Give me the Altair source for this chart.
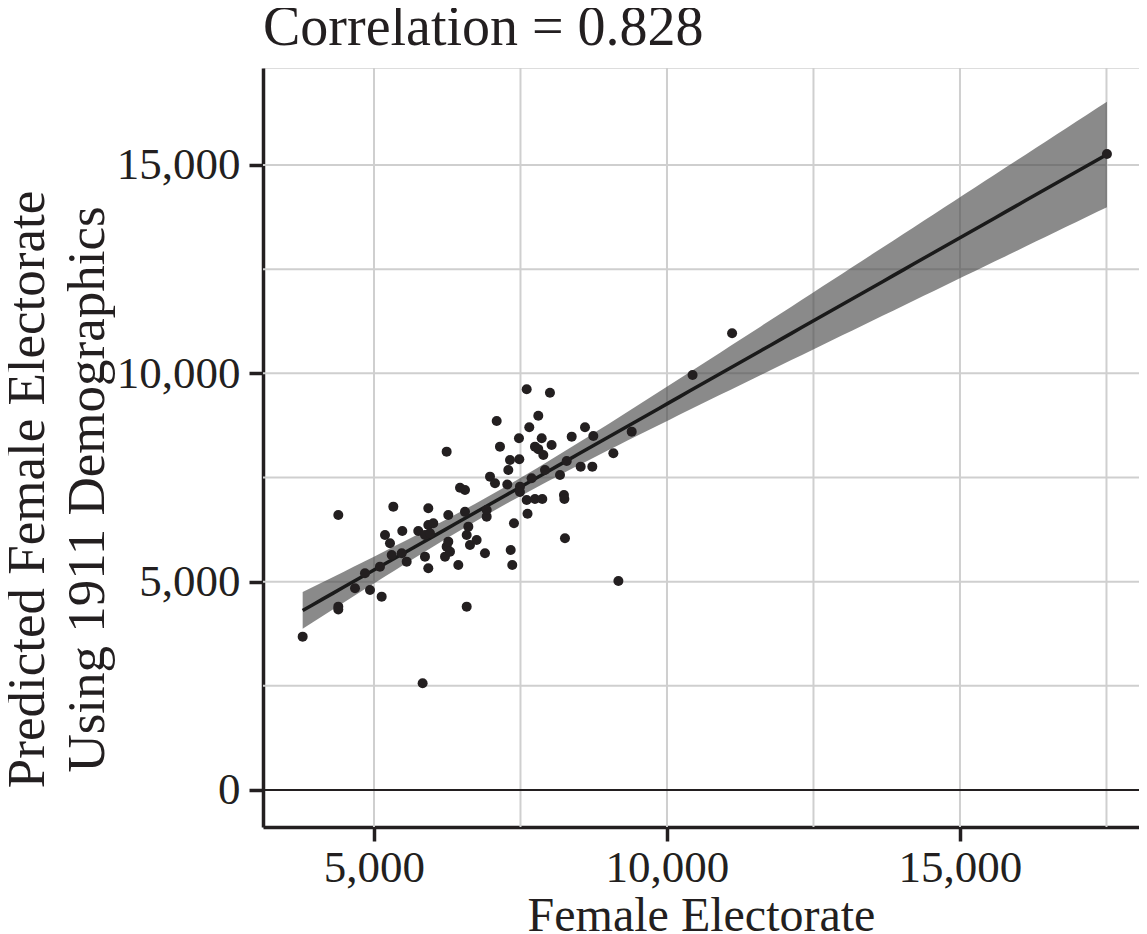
import altair as alt
import numpy as np
import pandas as pd

# ---- data ----
female_electorate = [
    3783, 4391, 4391, 4391, 4676, 4846, 4932, 5102, 5131, 5188,
    5273, 5302, 5330, 5473, 5483, 5558, 5756, 5830, 5870, 5870,
    5927, 5927, 5927, 5956, 6012, 6212, 6240, 6240, 6268, 6268,
    6297, 6439, 6468, 6553, 6553, 6582, 6582, 6610, 6638, 6752,
    6894, 6923, 6923, 6980, 7065, 7094, 7150, 7275, 7292, 7321,
    7333, 7360, 7389, 7474, 7480, 7491, 7491, 7606, 7606, 7620,
    7650, 7690, 7747, 7747, 7804, 7804, 7862, 7872, 7890, 7918,
    8003, 8031, 8174, 8242, 8249, 8259, 8289, 8374, 8527, 8601,
    8726, 8743, 9085, 9171, 9398, 10437, 11111, 17508,
]
predicted_electorate = [
    3680, 4400, 4330, 6600, 4840, 5200, 4800, 5360, 4640, 6120,
    5920, 5640, 6800, 5680, 6216, 5480, 6216, 2560, 5600, 6120,
    5320, 6360, 6760, 6160, 6400, 5600, 5840, 8120, 5960, 6600,
    5720, 5400, 7254, 7200, 6675, 6120, 4400, 6320, 5880, 6000,
    5680, 6560, 6720, 7520, 7360, 8855, 8240, 7332, 7680, 7920,
    5760, 5400, 6400, 8440, 7936, 7280, 7150, 9616, 6960, 6630,
    8704, 7480, 8240, 6984, 8983, 8180, 8440, 6984, 8040, 7680,
    9535, 8280, 7560, 7080, 6984, 6040, 7896, 8480, 7760, 8704,
    7760, 8495, 8080, 5016, 8600, 9960, 10960, 15263,
]
x_ticks = [5000, 10000, 15000]
y_ticks = [0, 5000, 10000, 15000]
x_grid = [5000, 7500, 10000, 12500, 15000, 17500]
y_grid = [2500, 5000, 7500, 10000, 12500, 15000]
y_zero = [0]
title_text = "Correlation = 0.828"
x_title = "Female Electorate"
y_title = ["Predicted Female Electorate", "Using 1911 Demographics"]

# ---- linear fit with 95% confidence band (like geom_smooth(method="lm")) ----
x = np.array(female_electorate, dtype=float)
y = np.array(predicted_electorate, dtype=float)
n = len(x)
b1, b0 = np.polyfit(x, y, 1)
xs = np.linspace(x.min(), x.max(), 80)
fit = b0 + b1 * xs
resid = y - (b0 + b1 * x)
s = np.sqrt(np.sum(resid ** 2) / (n - 2))
sxx = np.sum((x - x.mean()) ** 2)
se = s * np.sqrt(1.0 / n + (xs - x.mean()) ** 2 / sxx)
tcrit = 1.988
band = pd.DataFrame({"x": xs, "fit": fit, "lo": fit - tcrit * se, "hi": fit + tcrit * se})
pts = pd.DataFrame({"x": x, "y": y})

FONT = "Liberation Serif"
INK = "#231f20"

xscale = alt.Scale(domain=[3106, 18055], nice=False, zero=False)
yscale = alt.Scale(domain=[-888, 17327], nice=False, zero=False)

xaxis = alt.Axis(
    values=x_ticks, format=",.0f", grid=False,
    domainColor=INK, domainWidth=3.5, tickColor=INK, tickWidth=3.5, tickSize=14,
    labelFont=FONT, labelFontSize=45, labelColor=INK, labelPadding=4,
    title=x_title, titleFont=FONT, titleFontSize=48, titleFontWeight="normal",
    titleColor=INK, titleBaseline="alphabetic", titleY=103,
)
yaxis = alt.Axis(
    values=y_ticks, format=",.0f", grid=False,
    domainColor=INK, domainWidth=3.5, tickColor=INK, tickWidth=3.5, tickSize=14,
    labelFont=FONT, labelFontSize=45, labelColor=INK, labelPadding=9,
    title=y_title, titleFont=FONT, titleFontSize=53, titleFontWeight="normal",
    titleColor=INK, titleAngle=270, titleBaseline="alphabetic", titleAlign="center",
    titleLineHeight=60, titleX=-220, titleY=421,
)

vgrid = alt.Chart(pd.DataFrame({"g": x_grid})).mark_rule(color="#cfcfcf", strokeWidth=2).encode(
    x=alt.X("g:Q", scale=xscale, axis=xaxis)
)
hgrid = alt.Chart(pd.DataFrame({"g": y_grid})).mark_rule(color="#cfcfcf", strokeWidth=2).encode(
    y=alt.Y("g:Q", scale=yscale, axis=yaxis)
)
zero = alt.Chart(pd.DataFrame({"g": y_zero})).mark_rule(color=INK, strokeWidth=2).encode(
    y=alt.Y("g:Q", scale=yscale, axis=yaxis)
)
ribbon = alt.Chart(band).mark_area(color="#4b4b4b", opacity=0.65).encode(
    x=alt.X("x:Q", scale=xscale, axis=xaxis),
    y=alt.Y("lo:Q", scale=yscale, axis=yaxis),
    y2="hi:Q",
)
line = alt.Chart(band).mark_line(color="#1a1a1a", strokeWidth=3.5).encode(
    x=alt.X("x:Q", scale=xscale, axis=xaxis),
    y=alt.Y("fit:Q", scale=yscale, axis=yaxis),
)
points = alt.Chart(pts).mark_circle(size=100, color=INK, opacity=1).encode(
    x=alt.X("x:Q", scale=xscale, axis=xaxis),
    y=alt.Y("y:Q", scale=yscale, axis=yaxis),
)

chart = (
    alt.layer(vgrid, hgrid, zero, ribbon, line, points)
    .properties(
        width=876,
        height=759,
        autosize=alt.AutoSizeParams(type="none"),
        padding={"left": 255, "top": 60, "right": 0, "bottom": 107},
        title=alt.TitleParams(
            title_text, anchor="start", frame="group", font=FONT, fontSize=56,
            fontWeight="normal", color=INK, offset=10,
        ),
    )
    .configure_view(strokeWidth=0)
    .configure(background="white")
)

chart.save("out.html", embed_options={"renderer": "svg", "actions": False})
